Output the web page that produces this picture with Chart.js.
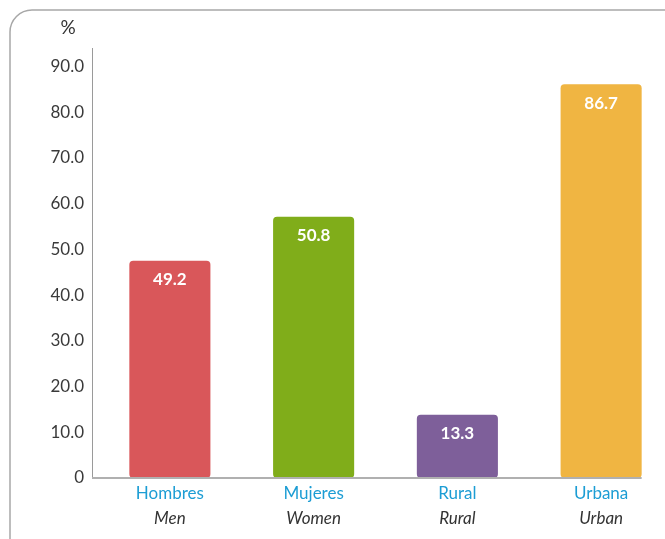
<!DOCTYPE html>
<html>
<head>
<meta charset="utf-8">
<script src="https://cdn.jsdelivr.net/npm/chart.js@4.4.0/dist/chart.umd.min.js"></script>
<style>
  html, body { margin: 0; padding: 0; background: #fff; overflow: hidden; }
  #wrap { width: 680px; height: 539px; position: relative; }
</style>
</head>
<body>
<div id="wrap"><canvas id="chart"></canvas></div>
<script>
// categories (Spanish / English)
const categoriesEs = ['Hombres', 'Mujeres', 'Rural', 'Urbana'];
const categoriesEn = ['Men', 'Women', 'Rural', 'Urban'];
// bar heights as drawn in the picture
const barHeights = [47.5, 57.1, 13.8, 86.1];
// values printed on the bars
const printedValues = ['49.2', '50.8', '13.3', '86.7'];
const barColors = ['#d9575a', '#80ad1a', '#7e5f9a', '#f0b542'];
const yTicks = [0, 10, 20, 30, 40, 50, 60, 70, 80, 90];

const FONT = 'Lato';

// frame, axis lines, category labels, value labels
const decorations = {
    id: 'decorations',
    beforeDraw(chart) {
        const ctx = chart.ctx;
        ctx.save();
        ctx.strokeStyle = '#a8a8a8';
        ctx.lineWidth = 1.5;
        ctx.beginPath();
        ctx.moveTo(10, 545);
        ctx.lineTo(10, 32);
        ctx.arcTo(10, 10, 32, 10, 22);
        ctx.lineTo(690, 10);
        ctx.stroke();
        ctx.restore();
    },
    afterDatasetsDraw(chart) {
        const ctx = chart.ctx;
        const x = chart.scales.x, y = chart.scales.y;
        const meta = chart.getDatasetMeta(0);
        const y0 = y.getPixelForValue(0);
        ctx.save();
        // y axis line
        ctx.strokeStyle = '#9a9a9a';
        ctx.lineWidth = 1;
        ctx.beginPath();
        ctx.moveTo(92.5, chart.chartArea.top);
        ctx.lineTo(92.5, y0);
        ctx.stroke();
        // x axis line
        const last = meta.data[meta.data.length - 1];
        ctx.strokeStyle = '#b0b0b0';
        ctx.lineWidth = 2;
        ctx.beginPath();
        ctx.moveTo(92, y0);
        ctx.lineTo(last.x + last.width / 2, y0);
        ctx.stroke();
        // % unit
        ctx.fillStyle = '#333';
        ctx.font = '19px ' + FONT;
        ctx.textAlign = 'center';
        ctx.textBaseline = 'middle';
        ctx.fillText('%', 68, 28);
        // category labels
        categoriesEs.forEach((c, i) => {
            const cx = x.getPixelForValue(i);
            ctx.fillStyle = '#1c9dd4';
            ctx.font = '17px ' + FONT;
            ctx.fillText(c, cx, 494);
            ctx.fillStyle = '#333';
            ctx.font = 'italic 17px ' + FONT;
            ctx.fillText(categoriesEn[i], cx, 519);
        });
        // printed values
        ctx.fillStyle = '#fff';
        ctx.font = 'bold 17px ' + FONT;
        meta.data.forEach((bar, i) => {
            ctx.fillText(printedValues[i], bar.x, bar.y + 19);
        });
        ctx.restore();
    }
};

new Chart(document.getElementById('chart'), {
    type: 'bar',
    data: {
        labels: categoriesEs,
        datasets: [{
            data: barHeights,
            backgroundColor: barColors,
            borderRadius: 4,
            borderSkipped: false,
            barPercentage: 0.564,
            categoryPercentage: 1
        }]
    },
    options: {
        responsive: true,
        maintainAspectRatio: false,
        animation: false,
        layout: { padding: { top: 48, right: 7, bottom: 0, left: 0 } },
        plugins: { legend: { display: false }, tooltip: { enabled: false } },
        scales: {
            x: {
                grid: { display: false },
                border: { display: false },
                ticks: { display: false },
                afterFit(scale) { scale.height = 61; }
            },
            y: {
                min: 0,
                max: 94,
                grid: { display: false, drawTicks: false },
                border: { display: false },
                afterBuildTicks(scale) { scale.ticks = yTicks.map(v => ({ value: v })); },
                afterFit(scale) { scale.width = 98; },
                ticks: {
                    padding: 14,
                    color: '#3a3a3a',
                    font: { family: FONT, size: 17 },
                    callback: v => v === 0 ? '0' : v.toFixed(1)
                }
            }
        }
    },
    plugins: [decorations]
});
</script>
</body>
</html>
